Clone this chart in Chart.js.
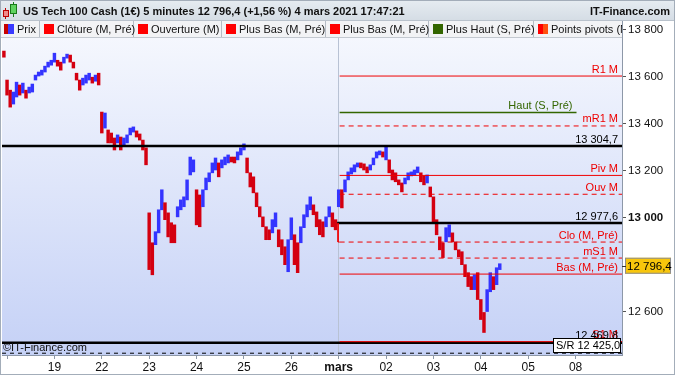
<!DOCTYPE html>
<html>
<head>
<meta charset="utf-8">
<script src="https://cdn.jsdelivr.net/npm/chart.js@4.4.1/dist/chart.umd.min.js"></script>
<style>
  body { margin: 0; background: #fff; font-family: "Liberation Sans", Arial, sans-serif; }
  #cadre { position: relative; width: 675px; height: 375px; overflow: hidden; }
  #titre { position: absolute; left: 0; top: 0; width: 675px; height: 21px; background: linear-gradient(#e6ecf1, #d5dde5); border-bottom: 1px solid #b9c2cc; box-sizing: border-box; font-weight: bold; font-size: 11px; line-height: 22px; color: #111; }
  #titre .g { position: absolute; left: 23px; top: 0; }
  #titre .d { position: absolute; right: 5px; top: 0; }
  .bougie { position: absolute; border: 1px solid; box-sizing: border-box; }
  .meche { position: absolute; width: 1px; }
  #legende { position: absolute; left: 0; top: 21px; width: 622px; height: 17px; background: #f2f3f5; border-bottom: 1px solid #c3c9d0; box-sizing: border-box; font-size: 11px; overflow: hidden; }
  #legende .it { position: absolute; top: 0; height: 16px; border-right: 1px solid #b5bcc5; box-sizing: border-box; line-height: 17px; white-space: nowrap; color: #111; }
  #legende .ic { position: absolute; left: 4px; top: 3px; width: 10px; height: 10px; }
  #legende .tx { position: absolute; left: 17px; top: 0; }
  #bord { position: absolute; left: 0; top: 0; width: 675px; height: 375px; border: 1px solid #a3adb9; box-sizing: border-box; pointer-events: none; }
</style>
</head>
<body>
<div id="cadre">
  <canvas id="graphique" width="675" height="375"></canvas>
  <div id="titre">
    <div class="meche" style="left:5px;top:8px;height:11px;background:#b00"></div>
    <div class="bougie" style="left:3px;top:10px;width:6px;height:7px;background:#f08a8a;border-color:#b00"></div>
    <div class="meche" style="left:13px;top:2px;height:15px;background:#1a7a1a"></div>
    <div class="bougie" style="left:10px;top:4px;width:7px;height:10px;background:#5fd35f;border-color:#1a7a1a"></div>
    <span class="g">US Tech 100 Cash (1€) 5 minutes 12 796,4 (+1,56 %) 4 mars 2021 17:47:21</span>
    <span class="d">IT-Finance.com</span>
  </div>
  <div id="legende">
    <div class="it" style="left:0;width:40px"><span class="ic" style="background:linear-gradient(90deg,#c80000 45%,#3a3aff 45%)"></span><span class="tx">Prix</span></div>
    <div class="it" style="left:40px;width:94px"><span class="ic" style="background:#f00"></span><span class="tx">Clôture (M, Pré)</span></div>
    <div class="it" style="left:134px;width:88px"><span class="ic" style="background:#f00"></span><span class="tx">Ouverture (M)</span></div>
    <div class="it" style="left:222px;width:104px"><span class="ic" style="background:#f00"></span><span class="tx">Plus Bas (M, Pré)</span></div>
    <div class="it" style="left:326px;width:103px"><span class="ic" style="background:#f00"></span><span class="tx">Plus Bas (M, Pré)</span></div>
    <div class="it" style="left:429px;width:105px"><span class="ic" style="background:#336600"></span><span class="tx">Plus Haut (S, Pré)</span></div>
    <div class="it" style="left:534px;width:100px;border-right:none"><span class="ic" style="background:linear-gradient(90deg,#f00 50%,#ff5010 50%)"></span><span class="tx">Points pivots (M, Pré)</span></div>
  </div>
  <div id="bord"></div>
</div>
<script>
// jours affichés sous l'axe (un jour = 15 barres)
var jours = ['', '19', '22', '23', '24', '25', '26', 'mars', '02', '03', '04', '05', '08'];
var barresParJour = 15;
var premierIndex = -1;

// plus hauts / plus bas de chaque barre
var plusHauts = [13708, 13585, 13542, 13534, 13576, 13564, 13572, 13542, 13555, 13568,
  13606, 13619, 13627, 13644, 13661, 13669, 13699, 13669, 13661, 13682,
  13695, 13691, 13661, 13614, 13585, 13593, 13606, 13614, 13597, 13606,
  13614, 13449, 13445, 13373, 13360, 13339, 13352, 13343, 13339, 13352,
  13381, 13386, 13369, 13356, 13330, 13297, 13021, 12894, 12941, 13034,
  13119, 13064, 13021, 12979, 12970, 13047, 13076, 13089, 13161, 13258,
  13246, 13119, 13097, 13119, 13169, 13191, 13233, 13254, 13233, 13246,
  13258, 13267, 13258, 13258, 13280, 13297, 13314, 13254, 13191, 13174,
  13106, 13047, 13004, 12962, 12949, 12992, 13021, 12949, 12907, 12877,
  12907, 13000, 12928, 12894, 12962, 13013, 13055, 13089, 13055, 13025,
  12992, 12983, 13004, 13047, 13021, 12992, 13119, 13119, 13161, 13195,
  13212, 13225, 13233, 13233, 13229, 13216, 13225, 13254, 13280, 13284,
  13280, 13301, 13246, 13203, 13191, 13161, 13148, 13169, 13191, 13195,
  13203, 13216, 13191, 13178, 13182, 13131, 13089, 12992, 12919, 12894,
  12958, 12970, 12936, 12898, 12864, 12856, 12801, 12767, 12750, 12758,
  12767, 12653, 12598, 12695, 12767, 12750, 12788, 12805];
var plusBas = [13682, 13521, 13470, 13483, 13513, 13521, 13530, 13508, 13530, 13534,
  13585, 13602, 13606, 13619, 13640, 13648, 13661, 13644, 13627, 13657,
  13678, 13661, 13636, 13585, 13542, 13564, 13572, 13585, 13572, 13580,
  13564, 13360, 13381, 13318, 13318, 13288, 13318, 13288, 13309, 13318,
  13352, 13364, 13343, 13330, 13288, 13225, 12780, 12758, 12886, 12936,
  13034, 12992, 12919, 12894, 12894, 13004, 13034, 13047, 13076, 13182,
  13195, 12970, 12962, 13047, 13119, 13153, 13191, 13203, 13174, 13212,
  13225, 13233, 13237, 13233, 13246, 13267, 13288, 13191, 13131, 13106,
  13047, 13004, 12962, 12907, 12907, 12936, 12962, 12877, 12843, 12801,
  12771, 12907, 12801, 12767, 12894, 12958, 13004, 13034, 13013, 12962,
  12928, 12919, 12962, 13004, 12962, 12949, 13047, 13042, 13110, 13161,
  13186, 13195, 13216, 13212, 13203, 13191, 13203, 13225, 13254, 13267,
  13258, 13246, 13191, 13161, 13153, 13140, 13110, 13144, 13161, 13178,
  13182, 13191, 13153, 13140, 13148, 13089, 12979, 12928, 12864, 12831,
  12898, 12919, 12898, 12864, 12835, 12801, 12750, 12708, 12695, 12695,
  12653, 12568, 12513, 12602, 12686, 12695, 12716, 12780];

// niveaux mensuels (pivots, ouverture, clôture, plus bas)
var niveauxNoms = ['R1 M', 'mR1 M', 'Piv M', 'Ouv M', 'Clo (M, Pré)', 'mS1 M', 'Bas (M, Pré)', 'S1 M'];
var niveauxValeurs = [13602, 13390, 13180, 13100, 12897, 12829, 12761, 12474];
// supports / résistances tracés en noir
var supportsValeurs = [13304.7, 12977.6, 12469.8];
var supportsNoms = ['13 304,7', '12 977,6', '12 469,8'];
var srValeur = 12425.0;
var hautSemaine = 13447;
var dernierCours = 12796.4;
var graduations = [12600, 13000, 13200, 13400, 13600, 13800];

var rouge = '#d40010', bleu = '#3434ff', rougeNiveau = '#f00000';
var xMin = -1.6, xMax = 194.7;
var debutMois = 7 * barresParJour + 0.3;

function fmt(v, dec) {
  var s = v.toFixed(dec).replace('.', ',');
  var p = s.split(',');
  p[0] = p[0].replace(/\B(?=(\d{3})+(?!\d))/g, ' ');
  return p.join(',');
}

var barres = [], couleurs = [];
for (var k = 0; k < plusHauts.length; k++) {
  barres.push({ x: premierIndex + k, y: [plusBas[k], plusHauts[k]] });
  var monte = k > 0 && (plusHauts[k] + plusBas[k]) >= (plusHauts[k - 1] + plusBas[k - 1]);
  couleurs.push(monte ? bleu : rouge);
}

function ligne(valeur, debut, fin, couleur, epaisseur, tirets, etiquette, couleurTexte) {
  return {
    type: 'line',
    data: [{ x: debut, y: valeur }, { x: fin, y: valeur }],
    borderColor: couleur,
    borderWidth: epaisseur,
    borderDash: tirets,
    pointRadius: 0,
    order: 1,
    etiquette: etiquette,
    couleurTexte: couleurTexte
  };
}

var styleNiveaux = [[1, []], [1, [5, 4]], [1, []], [1, [5, 4]], [1, [5, 4]], [1, [5, 4]], [1, []], [1, []]];

var datasets = [{
  type: 'bar',
  data: barres,
  backgroundColor: couleurs,
  barThickness: 2.8,
  order: 2
}];
datasets.push(ligne(srValeur, xMin, xMax, '#000', 1, [4, 4], null, null));
niveauxValeurs.forEach(function (v, i) {
  datasets.push(ligne(v, debutMois, xMax, rougeNiveau, styleNiveaux[i][0], styleNiveaux[i][1], niveauxNoms[i], '#ee0000'));
});
datasets.push(ligne(hautSemaine, debutMois, 12 * barresParJour + 0.3, '#336600', 1.5, [], 'Haut (S, Pré)', '#336600'));
datasets.push({
  type: 'line',
  data: [{ x: debutMois - 0.5, y: supportsValeurs[1] }, { x: debutMois - 0.5, y: niveauxValeurs[4] }, { x: debutMois, y: niveauxValeurs[4] }],
  borderColor: rougeNiveau, borderWidth: 1, pointRadius: 0, order: 1
});
var debutsSupports = [xMin, debutMois - 0.8, xMin];
supportsValeurs.forEach(function (v, i) {
  datasets.push(ligne(v, debutsSupports[i], xMax, '#000', 2.5, [], supportsNoms[i], '#000'));
});

var fond = {
  id: 'fond',
  beforeDraw: function (chart) {
    var ctx = chart.ctx, a = chart.chartArea;
    var g = ctx.createLinearGradient(0, a.top, 0, a.bottom);
    g.addColorStop(0, '#f7f9fe');
    g.addColorStop(1, '#c5d1f6');
    ctx.save();
    ctx.fillStyle = g;
    ctx.fillRect(a.left, a.top, a.right - a.left, a.bottom - a.top);
    ctx.restore();
  }
};

var etiquettes = {
  id: 'etiquettes',
  afterDatasetsDraw: function (chart) {
    var ctx = chart.ctx, sx = chart.scales.x, sy = chart.scales.y, a = chart.chartArea;
    ctx.save();
    ctx.font = '11px "Liberation Sans", Arial, sans-serif';
    ctx.textBaseline = 'bottom';
    ctx.textAlign = 'right';
    chart.data.datasets.forEach(function (ds) {
      if (!ds.etiquette) return;
      var fin = Math.min(ds.data[1].x, sx.max);
      ctx.fillStyle = ds.couleurTexte;
      ctx.fillText(ds.etiquette, sx.getPixelForValue(fin) - 4, sy.getPixelForValue(ds.data[0].y) - 1);
    });
    // boîte S/R
    var yb = Math.min(sy.getPixelForValue(srValeur), a.bottom - 10);
    ctx.fillStyle = '#fff';
    ctx.fillRect(a.right - 69, yb - 7, 68, 15);
    ctx.strokeStyle = '#000';
    ctx.lineWidth = 1;
    ctx.strokeRect(a.right - 68.5, yb - 6.5, 67, 14);
    ctx.fillStyle = '#000';
    ctx.textBaseline = 'middle';
    ctx.textAlign = 'left';
    ctx.fillText('S/R ' + fmt(srValeur, 1), a.right - 66, yb + 1);
    // copyright
    ctx.fillStyle = '#111';
    ctx.textBaseline = 'alphabetic';
    ctx.fillText('©IT-Finance.com', a.left + 1, a.bottom - 4);
    // dernier cours
    var yp = sy.getPixelForValue(dernierCours);
    ctx.fillStyle = '#f8c60c';
    ctx.fillRect(a.right + 3, yp - 8, 46, 16);
    ctx.strokeStyle = '#8e8e8e';
    ctx.strokeRect(a.right + 3.5, yp - 7.5, 45, 15);
    ctx.strokeStyle = '#333';
    ctx.beginPath();
    ctx.moveTo(a.right, Math.round(yp) + 0.5);
    ctx.lineTo(a.right + 4, Math.round(yp) + 0.5);
    ctx.stroke();
    ctx.fillStyle = '#000';
    ctx.font = '11.5px "Liberation Sans", Arial, sans-serif';
    ctx.textBaseline = 'middle';
    ctx.fillText(fmt(dernierCours, 1), a.right + 5, yp + 1);
    ctx.restore();
  }
};

new Chart(document.getElementById('graphique'), {
  type: 'bar',
  data: { datasets: datasets },
  plugins: [fond, etiquettes],
  options: {
    responsive: false,
    animation: false,
    events: [],
    layout: { padding: { top: 21, left: 2, right: 0, bottom: 0 } },
    plugins: { legend: { display: false }, tooltip: { enabled: false } },
    scales: {
      x: {
        type: 'linear',
        offset: false,
        min: xMin,
        max: xMax,
        afterBuildTicks: function (s) {
          s.ticks = jours.map(function (j, i) { return { value: i * barresParJour }; });
        },
        afterFit: function (s) { s.height = 20; },
        ticks: {
          autoSkip: false,
          maxRotation: 0,
          padding: 1,
          color: '#111',
          font: function (c) {
            var b = c.tick && c.tick.value === 7 * barresParJour;
            return { family: '"Liberation Sans", Arial, sans-serif', size: 12, weight: b ? 'bold' : 'normal' };
          },
          callback: function (v) { return jours[Math.round(v / barresParJour)]; }
        },
        grid: {
          offset: false,
          drawOnChartArea: true,
          color: function (c) { return c.tick && c.tick.value === 7 * barresParJour ? '#b8c2d4' : 'rgba(0,0,0,0)'; },
          tickColor: '#8d98a8',
          tickLength: 4
        },
        border: { display: true, color: '#8d98a8' }
      },
      y: {
        position: 'right',
        min: 12417.4,
        max: 13835.7,
        afterBuildTicks: function (s) {
          s.ticks = graduations.map(function (v) { return { value: v }; });
        },
        afterFit: function (s) { s.width = 53; },
        ticks: {
          padding: 2,
          color: '#111',
          font: function (c) {
            var b = c.tick && c.tick.value === 13000;
            return { family: '"Liberation Sans", Arial, sans-serif', size: 11.5, weight: b ? 'bold' : 'normal' };
          },
          callback: function (v) { return fmt(v, 0); }
        },
        grid: { drawOnChartArea: false, tickColor: '#555', tickLength: 4 },
        border: { display: true, color: '#8d98a8' }
      }
    }
  }
});
</script>
</body>
</html>
